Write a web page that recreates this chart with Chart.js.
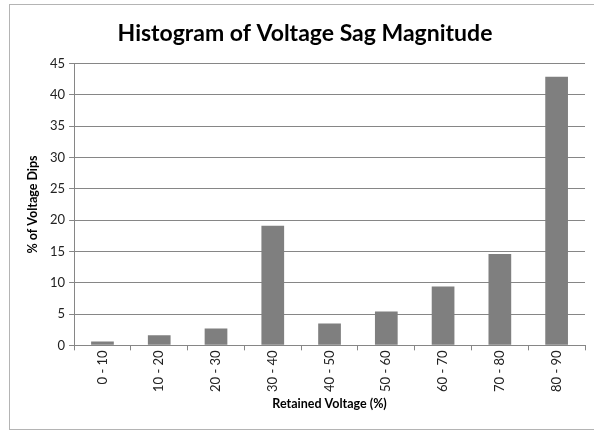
<!DOCTYPE html>
<html>
<head>
<meta charset="utf-8">
<script src="https://cdn.jsdelivr.net/npm/chart.js@4"></script>
<style>
    html, body { margin: 0; padding: 0; background: #fff; }
    #wrap { position: relative; width: 594px; height: 432px; overflow: hidden; }
    #frame {
        position: absolute; left: 9px; top: 4px; width: 620px; height: 424px;
        border: 1px solid #b4b4b4;
    }
    canvas { position: absolute; left: 0; top: 0; }
</style>
</head>
<body>
<div id="wrap">
    <div id="frame"></div>
    <canvas id="sagChart" width="594" height="432"></canvas>
</div>
<script>
    // Data
    const categories = ['0 - 10', '10 - 20', '20 - 30', '30 - 40', '40 - 50', '50 - 60', '60 - 70', '70 - 80', '80 - 90'];
    const dipPercent = [0.6, 1.6, 2.7, 19.1, 3.5, 5.4, 9.4, 14.6, 42.9];
    const yTicks = [0, 5, 10, 15, 20, 25, 30, 35, 40, 45];

    const fontFamily = 'Lato, "Open Sans", sans-serif';
    const gridColor = '#868686';

    function initChart() {
        const ctx = document.getElementById('sagChart').getContext('2d');
        new Chart(ctx, {
            type: 'bar',
            data: {
                labels: categories,
                datasets: [{
                    label: '% of Voltage Dips',
                    data: dipPercent,
                    backgroundColor: '#7f7f7f',
                    borderWidth: 0,
                    barPercentage: 0.4,
                    categoryPercentage: 1.0
                }]
            },
            options: {
                responsive: false,
                animation: false,
                layout: {
                    padding: { left: 25, right: 9, top: 12, bottom: 21 }
                },
                plugins: {
                    legend: { display: false },
                    tooltip: { enabled: false },
                    title: {
                        display: true,
                        text: 'Histogram of Voltage Sag Magnitude',
                        color: '#000',
                        font: { family: fontFamily, size: 23, weight: 'bold' },
                        padding: { top: 8, bottom: 16 }
                    }
                },
                scales: {
                    y: {
                        min: 0,
                        max: 45,
                        afterBuildTicks: axis => {
                            axis.ticks = yTicks.map(v => ({ value: v }));
                        },
                        ticks: {
                            color: '#222',
                            padding: 4,
                            font: { family: fontFamily, size: 13 }
                        },
                        grid: {
                            color: gridColor,
                            tickLength: 5,
                            tickColor: gridColor
                        },
                        border: { color: gridColor },
                        title: {
                            display: true,
                            text: '% of Voltage Dips',
                            color: '#000',
                            padding: { top: 0, bottom: 6 },
                            font: { family: fontFamily, size: 12.5, weight: 'bold' }
                        }
                    },
                    x: {
                        ticks: {
                            color: '#222',
                            minRotation: 90,
                            maxRotation: 90,
                            padding: 0,
                            font: { family: fontFamily, size: 13 }
                        },
                        grid: {
                            offset: true,
                            drawOnChartArea: false,
                            tickLength: 5,
                            color: gridColor
                        },
                        border: { color: gridColor },
                        title: {
                            display: true,
                            text: 'Retained Voltage (%)',
                            color: '#000',
                            padding: { top: 4, bottom: 0 },
                            font: { family: fontFamily, size: 12.5, weight: 'bold' }
                        }
                    }
                }
            }
        });
    }

    window.onload = function() {
        initChart();
    };
</script>
</body>
</html>
